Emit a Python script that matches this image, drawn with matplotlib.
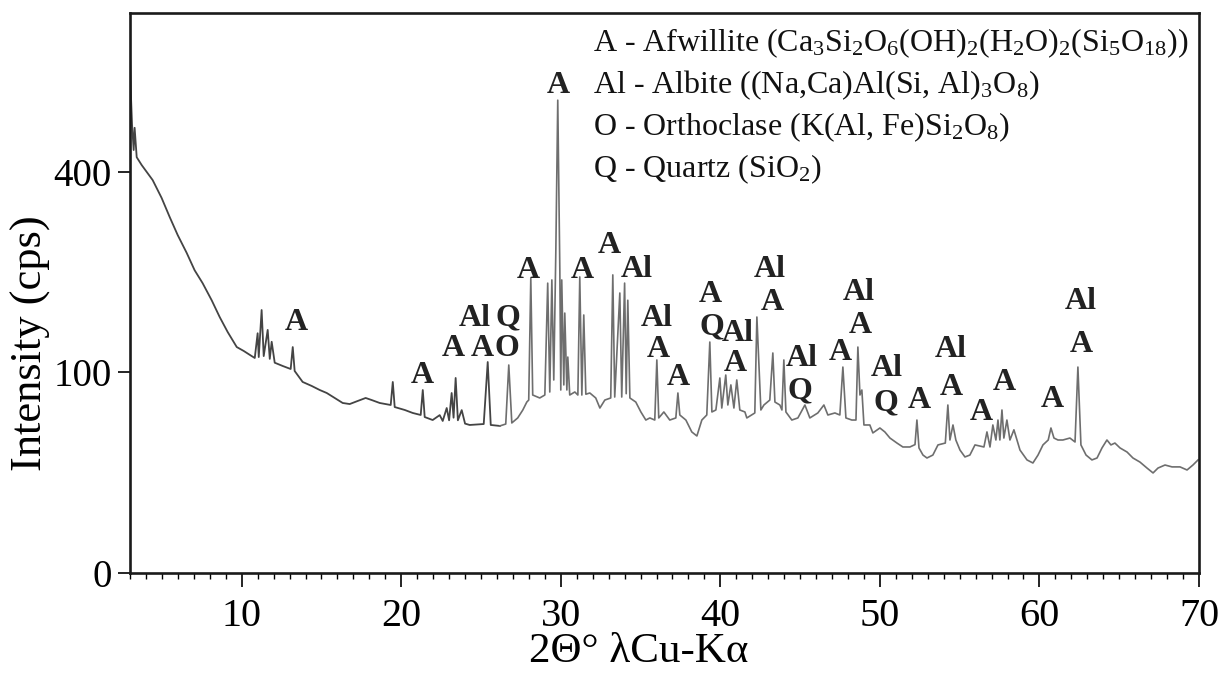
import numpy as np
import matplotlib
matplotlib.use("Agg")
import matplotlib.pyplot as plt
from matplotlib.ticker import MultipleLocator

plt.rcParams["font.family"] = ["Liberation Serif", "DejaVu Serif"]
plt.rcParams["mathtext.fontset"] = "custom"
plt.rcParams["mathtext.rm"] = "Liberation Serif"
plt.rcParams["mathtext.it"] = "Liberation Serif:italic"

# XRD trace (2theta in degrees, intensity in cps)
two_theta = [
    3.01, 3.07, 3.13, 3.23, 3.29, 3.42, 3.73, 4.42, 4.98, 5.49, 5.99, 6.55,
    7.05, 7.55, 8.12, 8.62, 9.12, 9.69, 10.13, 10.63, 10.82, 11.0, 11.07,
    11.25, 11.38, 11.63, 11.76, 11.88, 12.07, 12.57, 13.07, 13.20, 13.32,
    13.82, 14.39, 14.89, 15.33, 15.83, 16.33, 16.77, 17.27, 17.77, 18.15,
    18.65, 19.34, 19.47, 19.59, 20.22, 20.72, 21.22, 21.35, 21.47, 21.97,
    22.41, 22.6, 22.85, 23.0, 23.16, 23.28, 23.41, 23.55, 23.79, 24.0, 24.29,
    25.17, 25.42, 25.61, 26.18, 26.55, 26.74, 26.93, 27.30, 27.62, 27.87,
    27.99, 28.12, 28.24, 28.68, 29.0, 29.18, 29.31, 29.44, 29.56, 29.69,
    29.81, 29.94, 30.0, 30.06, 30.19, 30.25, 30.38, 30.44, 30.56, 30.88,
    31.07, 31.19, 31.32, 31.44, 31.57, 31.82, 32.19, 32.45, 32.76, 33.13,
    33.26, 33.38, 33.70, 33.82, 34.0, 34.1, 34.2, 34.33, 34.70, 35.02, 35.33,
    35.58, 35.89, 36.02, 36.14, 36.46, 36.83, 37.21, 37.34, 37.46, 37.84,
    38.21, 38.53, 38.84, 39.15, 39.34, 39.47, 39.72, 39.97, 40.09, 40.34,
    40.47, 40.66, 40.85, 41.03, 41.22, 41.54, 41.66, 42.16, 42.29, 42.54,
    42.73, 43.10, 43.29, 43.42, 43.73, 43.86, 43.98, 44.11, 44.48, 44.86,
    45.30, 45.61, 46.11, 46.49, 46.74, 47.18, 47.49, 47.68, 47.87, 48.24,
    48.50, 48.62, 48.75, 48.87, 49.0, 49.37, 49.56, 50.0, 50.31, 50.63,
    51.07, 51.44, 51.88, 52.20, 52.32, 52.45, 52.70, 52.95, 53.32, 53.64,
    54.10, 54.26, 54.39, 54.58, 54.76, 55.02, 55.33, 55.64, 55.96, 56.52,
    56.71, 56.90, 57.08, 57.27, 57.40, 57.52, 57.65, 57.77, 57.96, 58.15,
    58.40, 58.78, 59.22, 59.59, 59.91, 60.22, 60.55, 60.72, 60.91, 61.16,
    61.47, 61.91, 62.23, 62.41, 62.60, 62.92, 63.29, 63.61, 63.92, 64.23,
    64.48, 64.73, 65.05, 65.49, 65.86, 66.30, 66.74, 67.12, 67.43, 67.87,
    68.31, 68.81, 69.25, 69.62, 69.94,
]
intensity = [
    655, 556, 499, 445, 493, 430, 414, 384, 350, 315, 284, 255,
    228, 209, 185, 163, 144.5, 127, 122.6, 117, 115, 143, 116,
    172, 117, 147, 114, 133, 110, 106.6, 103.5, 127, 101.5,
    90.8, 87, 83.3, 80.6, 76.2, 71.9, 71, 73.6, 76.2, 74.4,
    71.9, 70.2, 90.8, 68.5, 66.1, 63.7, 62.1, 83.3, 60.5, 58.2,
    62, 57.5, 67.7, 58, 80.6, 60, 94.6, 58, 66, 55.5, 54.5,
    55.2, 110.7, 54.5, 53.8, 55.2, 107.6, 56, 59.8, 66.1, 72.7,
    74.4, 216, 78.8, 76.2, 78.8, 209, 81.5, 213.6, 92.7, 259.5,
    556, 228, 83.3, 213.6, 88, 168, 83.3, 116, 78.8, 81.5,
    78.8, 218, 78.8, 165.6, 79.5, 80.6, 76.2, 67.7, 74.4, 76.2,
    221, 77, 195, 77, 209, 80, 185, 76.2, 72.7, 64.5, 58.2,
    59.8, 58.2, 112.9, 59.8, 64.5, 58.2, 59.8, 80.6, 62.1, 58.2,
    49.5, 46.7, 58.2, 62.1, 132.7, 64.5, 66.1, 94.6, 67.7, 97.5,
    70.2, 88, 67.7, 92.7, 66.1, 64.5, 59.8, 63.7, 163, 66.1,
    70.2, 74.4, 120.4, 72.7, 70.2, 66.1, 112.9, 64.5, 58.2, 59.8,
    70.2, 59.8, 63.7, 70.2, 62.1, 63.7, 62.1, 105.5, 59.8, 58.2,
    58.2, 127, 78.8, 83.3, 54.5, 54.5, 48.8, 52.3, 49.5, 45.3,
    42, 39.5, 39.5, 41, 58.2, 38.9, 34.6, 32.9, 34.6, 40.8,
    42, 70.2, 44, 54.5, 44, 37.6, 33.5, 34.6, 40.8, 39.5,
    49.5, 39.5, 54.5, 44, 58.2, 44, 66.1, 45.3, 58.2, 44,
    51, 37.6, 31.8, 30.1, 34.6, 40.8, 44, 52.3, 45.3, 44,
    44, 45.3, 42.7, 105.5, 40.8, 34.6, 31.8, 32.9, 38.9, 44,
    40.8, 42, 38.9, 36.4, 32.9, 30.6, 27.4, 24.9, 27.4, 29,
    28, 28, 26.4, 29, 31.8,
]

# phase labels placed above the peaks (baseline position in data units)
label_text = ["A", "A", "Al", "Q", "A", "A", "O", "A", "A", "A", "A", "Al",
              "Al", "A", "A", "A", "Q", "Al", "A", "Al", "A", "Al", "Q", "A",
              "Al", "A", "Al", "Q", "A", "Al", "A", "A", "A", "A", "Al", "A"]
label_x = [13.45, 21.29, 24.61, 26.68, 23.29, 25.05, 26.61, 27.99, 29.87,
           31.32, 33.07, 34.76, 36.02, 36.14, 37.34, 39.40, 39.47, 41.10,
           40.91, 43.10, 43.23, 45.11, 44.98, 47.49, 48.68, 48.75, 50.44,
           50.38, 52.45, 54.45, 54.45, 56.33, 57.77, 60.78, 62.60, 62.60]
label_y = [147, 89.8, 152, 152, 117, 117, 117, 216, 573,
           216, 255, 218, 152, 116, 88, 183, 142, 134,
           101, 218, 172, 107, 76, 113, 185, 143, 96.5,
           66, 67.7, 116, 78.8, 58.2, 83.3, 68.5, 174, 121.5]

phase_lines = [
    r"A - Afwillite (Ca$_3$Si$_2$O$_6$(OH)$_2$(H$_2$O)$_2$(Si$_5$O$_{18}$))",
    r"Al - Albite ((Na,Ca)Al(Si, Al)$_3$O$_8$)",
    r"O - Orthoclase (K(Al, Fe)Si$_2$O$_8$)",
    r"Q - Quartz (SiO$_2$)",
]

x_ticks = [10, 20, 30, 40, 50, 60, 70]
y_ticks = [0, 100, 400]


def fwd(v):
    return np.sqrt(np.clip(v, 0, None))


def inv(s):
    return np.square(s)


fig, ax = plt.subplots(figsize=(12.23, 6.73), dpi=100)
fig.subplots_adjust(left=130 / 1223, right=1199 / 1223,
                    bottom=1 - 573 / 673, top=1 - 13 / 673)

tt = np.array(two_theta)
ii = np.array(intensity)
split = np.searchsorted(tt, 26.0)
ax.plot(tt[:split + 1], ii[:split + 1], color="#444444", lw=1.3)
ax.plot(tt[split:], ii[split:], color="#6e6e6e", lw=1.2)

ax.set_yscale("function", functions=(fwd, inv))
ax.set_xlim(3, 70)
ax.set_ylim(0, 780)

ax.set_xticks(x_ticks)
ax.xaxis.set_minor_locator(MultipleLocator(1))
ax.set_yticks(y_ticks)
ax.yaxis.set_minor_locator(plt.NullLocator())

ax.tick_params(axis="x", which="major", direction="out", length=10,
               width=1.2, labelsize=29, pad=8)
ax.tick_params(axis="x", which="minor", direction="out", length=4, width=1)
ax.tick_params(axis="y", which="major", direction="out", length=9,
               width=1.2, labelsize=28, pad=4)

for sp in ax.spines.values():
    sp.set_linewidth(1.9)
    sp.set_color("#1a1a1a")

for t, x, y in zip(label_text, label_x, label_y):
    ax.text(x, y, t, ha="center", va="baseline", fontsize=23,
            fontweight="bold", color="#222222")

line_y = [0.932, 0.857, 0.782, 0.707]
for txt, y in zip(phase_lines, line_y):
    ax.text(0.433, y, txt, transform=ax.transAxes, ha="left",
            va="baseline", fontsize=23, color="#111111")

ax.set_xlabel("2\u0398\u00b0 \u03bbCu-K\u03b1", fontsize=31)
ax.xaxis.set_label_coords(0.476, -0.107)
ax.set_ylabel("Intensity (cps)", fontsize=32)
ax.yaxis.set_label_coords(-0.074, 0.41)

fig.savefig("out.png", dpi=100)
